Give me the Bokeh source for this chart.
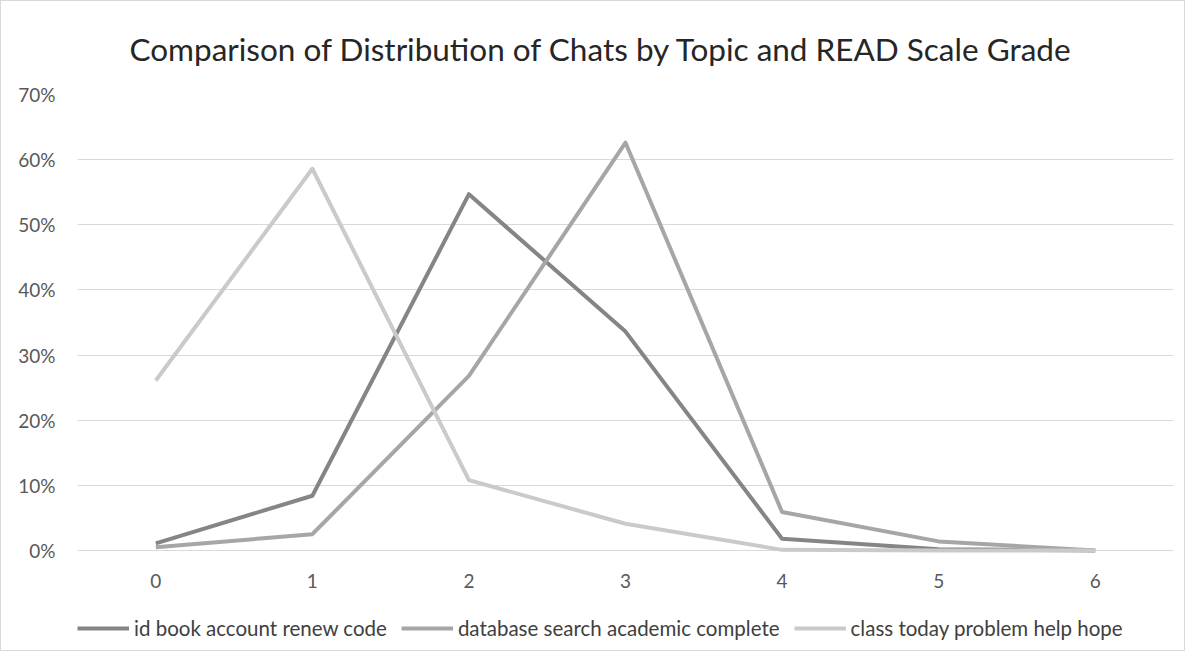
from bokeh.plotting import figure
from bokeh.models import FactorRange, Range1d, Legend, LegendItem, PrintfTickFormatter, FixedTicker, ColumnDataSource
from bokeh.core.properties import value
from bokeh.embed import file_html
from bokeh.resources import INLINE

grades = ["0", "1", "2", "3", "4", "5", "6"]
id_book = [1.1, 8.4, 54.7, 33.6, 1.8, 0.2, 0.0]
database = [0.5, 2.5, 26.8, 62.6, 5.9, 1.4, 0.0]
class_today = [26.1, 58.6, 10.8, 4.1, 0.1, 0.0, 0.0]
series_names = ["id book account renew code", "database search academic complete", "class today problem help hope"]
y_ticks = [0, 10, 20, 30, 40, 50, 60, 70]

colors = ["#858585", "#a6a6a6", "#cacaca"]
FONT = "Lato"

# frame extends below 0 so the legend (drawn inside the frame) sits under the category labels
TOP, BOTTOM, H = 93, 0, 651
frame_h = H - TOP - BOTTOM
px_per_unit = 456 / 70.0
y_start = -(frame_h - 456) / px_per_unit

p = figure(x_range=FactorRange(*grades), y_range=Range1d(y_start, 70),
           width=1185, height=H, output_backend="svg", toolbar_location=None,
           min_border_left=76, min_border_right=13, min_border_top=TOP, min_border_bottom=BOTTOM)
p.styles = {"border": "1px solid #d9d9d9"}
p.outline_line_color = None
p.background_fill_color = "white"
p.border_fill_color = "white"

p.title.text = "Comparison of Distribution of Chats by Topic and READ Scale Grade"
p.title.align = "left"
p.title.offset = 52
p.title.text_font = FONT
p.title.text_font_size = "31.5px"
p.title.text_font_style = "normal"
p.title.text_color = "#262626"
p.title.text_line_height = 0.8
p.title.standoff = 53

p.xgrid.grid_line_color = None
p.ygrid.grid_line_color = "#d9d9d9"
p.ygrid.grid_line_width = 1
p.yaxis.ticker = FixedTicker(ticks=y_ticks)
p.yaxis.formatter = PrintfTickFormatter(format="%d%%")
p.yaxis.major_tick_line_color = None
p.yaxis.minor_tick_line_color = None
p.yaxis.major_label_text_font = FONT
p.yaxis.major_label_text_font_size = "19px"
p.yaxis.major_label_text_color = "#595959"
p.yaxis.axis_line_color = None
p.yaxis.major_label_standoff = 16
p.xaxis.visible = False

# category labels under the 0% line
lab = ColumnDataSource(dict(x=grades, y=[0] * len(grades), t=grades))
p.text(x="x", y="y", text="t", source=lab, text_font=value(FONT), text_font_size="19px",
       text_color="#595959", text_align="center", text_baseline="middle", y_offset=30)

renderers = []
for vals, c in zip([id_book, database, class_today], colors):
    r = p.line(x=grades, y=vals, line_color=c, line_width=4, line_join="round")
    renderers.append(r)

legend = Legend(items=[LegendItem(label=n, renderers=[r]) for n, r in zip(series_names, renderers)],
                orientation="horizontal", location=(0, 12),
                label_text_font=FONT, label_text_font_size="20.5px", label_text_color="#404040",
                glyph_width=52, glyph_height=20, label_standoff=5, spacing=14,
                padding=0, margin=0, border_line_color=None, background_fill_alpha=0)
p.add_layout(legend, "center")

open("out.html", "w").write(file_html(p, INLINE))
